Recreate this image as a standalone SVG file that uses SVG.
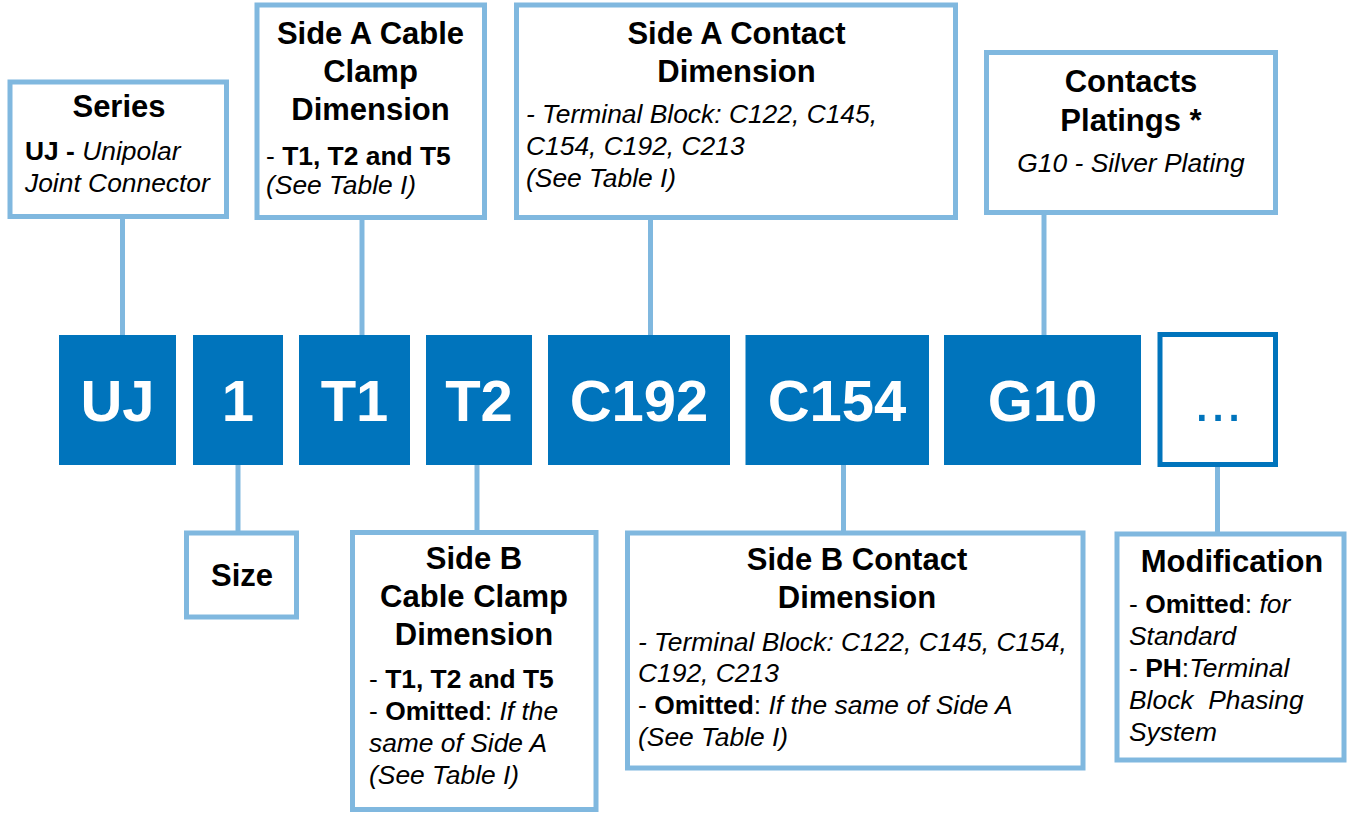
<svg xmlns="http://www.w3.org/2000/svg" width="1348" height="814" viewBox="0 0 1348 814">
<style>
.box{fill:#fff;stroke:#80B8DF;stroke-width:5}
.blk{fill:#0074BC}
.con{stroke:#80B8DF;stroke-width:5;fill:none}
text{font-family:"Liberation Sans",Arial,sans-serif;fill:#000}
.t{font-size:31px;font-weight:bold;text-anchor:middle}
.b{font-size:26.4px}
.i{font-style:italic}
.bd{font-weight:bold}
.bt{font-size:58px;font-weight:bold;fill:#fff;text-anchor:middle}
</style>
<rect width="1348" height="814" fill="#fff"/>
<g id="connectors">
<line class="con" x1="122.5" y1="216" x2="122.5" y2="336"/>
<line class="con" x1="362" y1="217" x2="362" y2="336"/>
<line class="con" x1="650.5" y1="217" x2="650.5" y2="336"/>
<line class="con" x1="1044" y1="212" x2="1044" y2="336"/>
<line class="con" x1="238" y1="464" x2="238" y2="532"/>
<line class="con" x1="477" y1="464" x2="477" y2="532"/>
<line class="con" x1="843.5" y1="464" x2="843.5" y2="532"/>
<line class="con" x1="1217.5" y1="466" x2="1217.5" y2="533"/>
</g>
<g id="series">
<rect class="box" x="10" y="82" width="216.5" height="134.5"/>
<text class="t" x="119" y="117">Series</text>
<text class="b" x="25" y="160"><tspan class="bd">UJ -</tspan><tspan class="i"> Unipolar</tspan></text>
<text class="b i" x="25" y="192">Joint Connector</text>
</g>
<g id="sideA-clamp">
<rect class="box" x="257" y="5" width="227.5" height="212.5"/>
<text class="t" x="370.5" y="44">Side A Cable</text>
<text class="t" x="370.5" y="82">Clamp</text>
<text class="t" x="370.5" y="120">Dimension</text>
<text class="b" x="266" y="165">- <tspan class="bd">T1, T2 and T5</tspan></text>
<text class="b i" x="266" y="194">(See Table I)</text>
</g>
<g id="sideA-contact">
<rect class="box" x="516.5" y="5" width="439" height="212.5"/>
<text class="t" x="736.5" y="44">Side A Contact</text>
<text class="t" x="736.5" y="82">Dimension</text>
<text class="b i" x="526" y="123">- Terminal Block: C122, C145,</text>
<text class="b i" x="526" y="155">C154, C192, C213</text>
<text class="b i" x="526" y="187">(See Table I)</text>
</g>
<g id="platings">
<rect class="box" x="986.5" y="52.5" width="289" height="160"/>
<text class="t" x="1131" y="92">Contacts</text>
<text class="t" x="1131" y="131">Platings *</text>
<text class="b i" x="1131" y="172" text-anchor="middle">G10 - Silver Plating</text>
</g>
<g id="blk-uj"><rect class="blk" x="59" y="335" width="117" height="130"/><text class="bt" x="117.5" y="421">UJ</text></g>
<g id="blk-1"><rect class="blk" x="193" y="335" width="90" height="130"/><text class="bt" x="238" y="421">1</text></g>
<g id="blk-t1"><rect class="blk" x="299" y="335" width="111" height="130"/><text class="bt" x="354.5" y="421">T1</text></g>
<g id="blk-t2"><rect class="blk" x="426" y="335" width="106" height="130"/><text class="bt" x="479" y="421">T2</text></g>
<g id="blk-c192"><rect class="blk" x="548" y="335" width="182" height="130"/><text class="bt" x="639" y="421">C192</text></g>
<g id="blk-c154"><rect class="blk" x="745.5" y="335" width="183.5" height="130"/><text class="bt" x="837" y="421">C154</text></g>
<g id="blk-g10"><rect class="blk" x="944" y="335" width="197" height="130"/><text class="bt" x="1042.5" y="421">G10</text></g>
<g id="blk-more"><rect x="1160" y="334.5" width="115.5" height="130" fill="#fff" stroke="#0074BC" stroke-width="5"/><text x="1218" y="421" font-size="58" text-anchor="middle" style="fill:#0074BC">...</text></g>
<g id="size">
<rect class="box" x="186.5" y="533" width="110" height="84"/>
<text class="t" x="242" y="586">Size</text>
</g>
<g id="sideB-clamp">
<rect class="box" x="352.5" y="532.5" width="243.5" height="277"/>
<text class="t" x="474" y="569">Side B</text>
<text class="t" x="474" y="607">Cable Clamp</text>
<text class="t" x="474" y="645">Dimension</text>
<text class="b" x="369" y="688">- <tspan class="bd">T1, T2 and T5</tspan></text>
<text class="b" x="369" y="720">- <tspan class="bd">Omitted</tspan>: <tspan class="i">If the</tspan></text>
<text class="b i" x="369" y="752">same of Side A</text>
<text class="b i" x="369" y="784">(See Table I)</text>
</g>
<g id="sideB-contact">
<rect class="box" x="627.5" y="533" width="455.5" height="235"/>
<text class="t" x="857" y="570">Side B Contact</text>
<text class="t" x="857" y="608">Dimension</text>
<text class="b i" x="638" y="651">- Terminal Block: C122, C145, C154,</text>
<text class="b i" x="638" y="682">C192, C213</text>
<text class="b" x="638" y="714">- <tspan class="bd">Omitted</tspan>: <tspan class="i">If the same of Side A</tspan></text>
<text class="b i" x="638" y="746">(See Table I)</text>
</g>
<g id="modification">
<rect class="box" x="1117" y="534" width="227" height="226"/>
<text class="t" x="1232" y="572">Modification</text>
<text class="b" x="1129" y="613">- <tspan class="bd">Omitted</tspan>: <tspan class="i">for</tspan></text>
<text class="b i" x="1129" y="645">Standard</text>
<text class="b" x="1129" y="677">- <tspan class="bd">PH</tspan>:<tspan class="i">Terminal</tspan></text>
<text class="b i" x="1129" y="709" xml:space="preserve">Block  Phasing</text>
<text class="b i" x="1129" y="741">System</text>
</g>
</svg>
